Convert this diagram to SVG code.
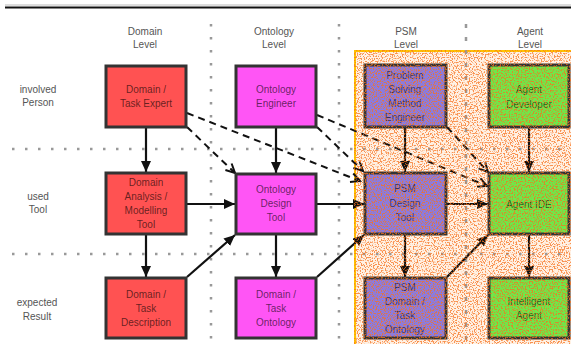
<svg xmlns="http://www.w3.org/2000/svg" width="571" height="344" viewBox="0 0 571 344">
  <defs>
    <style>
      text { font-family: "Liberation Sans", Arial, sans-serif; font-size: 10px; text-anchor: middle; }
      .hdr { fill: #555; }
      .lbl { fill: #000; fill-opacity: 0.62; }
      .box { stroke: #333; stroke-width: 3; }
      .red { fill: #ff5252; }
      .mag { fill: #ff55f5; }
      .psm { fill: #8a7be0; }
      .agt { fill: #6ee84a; }
      .grid { stroke: #999; stroke-width: 2.5; fill: none; stroke-dasharray: 2.5 10.5; }
      .solid { stroke: #111; stroke-width: 2.2; fill: none; marker-end: url(#head); }
      .dash { stroke: #111; stroke-width: 2; fill: none; stroke-dasharray: 7 5; marker-end: url(#open); }
    </style>
    <marker id="head" markerUnits="userSpaceOnUse" markerWidth="11" markerHeight="10" refX="11" refY="5" orient="auto">
      <path d="M0,0 L11,5 L0,10 z" fill="#111"/>
    </marker>
    <marker id="open" markerUnits="userSpaceOnUse" markerWidth="12" markerHeight="12" refX="10" refY="6" orient="auto">
      <path d="M1,1.5 L10,6 L1,10.5" fill="none" stroke="#111" stroke-width="2"/>
    </marker>
    <!-- speckled orange grain for the PSM / agent area -->
    <filter id="grain" x="354" y="50" width="217" height="294" filterUnits="userSpaceOnUse" color-interpolation-filters="sRGB">
      <feTurbulence type="fractalNoise" baseFrequency="0.75" numOctaves="1" seed="7"/>
      <feColorMatrix type="matrix" values="0 0 0 0 0.97  0 0 0 0 0.45  0 0 0 0 0.12  9 0 0 0 -4.5"/>
    </filter>
  </defs>

  <rect width="571" height="344" fill="#fff"/>

  <!-- header rule -->
  <line x1="5" y1="5" x2="571" y2="5" stroke="#bbb" stroke-width="1"/>
  <line x1="5" y1="7.5" x2="571" y2="7.5" stroke="#111" stroke-width="2"/>

  <!-- highlighted area -->
  <rect x="355" y="51" width="220" height="300" fill="#fff1e4" stroke="#ffc400" stroke-width="2"/>

  <!-- grid lines -->
  <g id="grid">
    <line class="grid" x1="211" y1="24" x2="211" y2="344"/>
    <line class="grid" x1="339" y1="24" x2="339" y2="344"/>
    <line class="grid" x1="466" y1="24" x2="466" y2="344" style="stroke-dasharray:4 9"/>
    <line class="grid" x1="12" y1="149" x2="571" y2="149"/>
    <line class="grid" x1="12" y1="254" x2="571" y2="254"/>
  </g>

  <!-- column and row headings -->
  <g id="headings">
    <text class="hdr" x="145" y="35">Domain</text>
    <text class="hdr" x="145" y="48">Level</text>
    <text class="hdr" x="274" y="35">Ontology</text>
    <text class="hdr" x="274" y="48">Level</text>
    <text class="hdr" x="406" y="35">PSM</text>
    <text class="hdr" x="406" y="48">Level</text>
    <text class="hdr" x="530" y="35">Agent</text>
    <text class="hdr" x="530" y="48">Level</text>
    <text class="hdr" x="38" y="93">involved</text>
    <text class="hdr" x="38" y="106">Person</text>
    <text class="hdr" x="38" y="200">used</text>
    <text class="hdr" x="38" y="213">Tool</text>
    <text class="hdr" x="37" y="306">expected</text>
    <text class="hdr" x="37" y="320">Result</text>
  </g>

  <!-- connectors -->
  <g id="connectors">
    <line class="solid" x1="146" y1="128" x2="146" y2="172"/>
    <line class="solid" x1="146" y1="235" x2="146" y2="277"/>
    <line class="solid" x1="187" y1="204" x2="235" y2="204"/>
    <line class="solid" x1="187" y1="277" x2="235" y2="235"/>
    <line class="solid" x1="276" y1="128" x2="276" y2="173"/>
    <line class="solid" x1="276" y1="235" x2="276" y2="277"/>
    <line class="solid" x1="317" y1="204" x2="364" y2="204"/>
    <line class="solid" x1="317" y1="277" x2="364" y2="235"/>
    <line class="solid" x1="405" y1="128" x2="405" y2="172"/>
    <line class="solid" x1="405" y1="235" x2="405" y2="277"/>
    <line class="solid" x1="447" y1="204" x2="488" y2="204"/>
    <line class="solid" x1="447" y1="277" x2="488" y2="235"/>
    <line class="solid" x1="529" y1="128" x2="529" y2="172"/>
    <line class="solid" x1="529" y1="235" x2="529" y2="277"/>
    <line class="dash" x1="187" y1="113" x2="360" y2="181"/>
    <line class="dash" x1="187" y1="127" x2="235" y2="173"/>
    <line class="dash" x1="317" y1="115" x2="487" y2="186"/>
    <line class="dash" x1="317" y1="127" x2="363" y2="171"/>
    <line class="dash" x1="447" y1="127" x2="488" y2="172"/>
  </g>

  <!-- domain level -->
  <g id="domain-expert">
    <rect class="box red" x="106" y="66" width="80" height="61"/>
    <text class="lbl" x="146" y="93">Domain /</text>
    <text class="lbl" x="146" y="107">Task Expert</text>
  </g>
  <g id="domain-tool">
    <rect class="box red" x="106" y="173" width="80" height="61"/>
    <text class="lbl" x="146" y="186">Domain</text>
    <text class="lbl" x="146" y="200">Analysis /</text>
    <text class="lbl" x="146" y="214">Modelling</text>
    <text class="lbl" x="146" y="228">Tool</text>
  </g>
  <g id="domain-description">
    <rect class="box red" x="106" y="278" width="80" height="60"/>
    <text class="lbl" x="146" y="298">Domain /</text>
    <text class="lbl" x="146" y="312">Task</text>
    <text class="lbl" x="146" y="326">Description</text>
  </g>

  <!-- ontology level -->
  <g id="ontology-engineer">
    <rect class="box mag" x="236" y="66" width="80" height="61"/>
    <text class="lbl" x="276" y="93">Ontology</text>
    <text class="lbl" x="276" y="107">Engineer</text>
  </g>
  <g id="ontology-tool">
    <rect class="box mag" x="236" y="174" width="80" height="60"/>
    <text class="lbl" x="276" y="193">Ontology</text>
    <text class="lbl" x="276" y="207">Design</text>
    <text class="lbl" x="276" y="221">Tool</text>
  </g>
  <g id="domain-ontology">
    <rect class="box mag" x="236" y="278" width="80" height="60"/>
    <text class="lbl" x="276" y="298">Domain /</text>
    <text class="lbl" x="276" y="312">Task</text>
    <text class="lbl" x="276" y="326">Ontology</text>
  </g>

  <!-- PSM level -->
  <g id="psm-engineer">
    <rect class="box psm" x="365" y="65" width="81" height="62"/>
    <text class="lbl" x="405" y="79">Problem</text>
    <text class="lbl" x="405" y="93">Solving</text>
    <text class="lbl" x="405" y="107">Method</text>
    <text class="lbl" x="405" y="121">Engineer</text>
  </g>
  <g id="psm-tool">
    <rect class="box psm" x="365" y="173" width="81" height="61"/>
    <text class="lbl" x="405" y="192">PSM</text>
    <text class="lbl" x="405" y="207">Design</text>
    <text class="lbl" x="405" y="221">Tool</text>
  </g>
  <g id="psm-ontology">
    <rect class="box psm" x="365" y="278" width="81" height="60"/>
    <text class="lbl" x="405" y="291">PSM</text>
    <text class="lbl" x="405" y="305">Domain /</text>
    <text class="lbl" x="405" y="319">Task</text>
    <text class="lbl" x="405" y="333">Ontology</text>
  </g>

  <!-- agent level -->
  <g id="agent-developer">
    <rect class="box agt" x="489" y="65" width="80" height="62"/>
    <text class="lbl" x="529" y="93">Agent</text>
    <text class="lbl" x="529" y="108">Developer</text>
  </g>
  <g id="agent-ide">
    <rect class="box agt" x="489" y="173" width="80" height="61"/>
    <text class="lbl" x="529" y="208">Agent IDE</text>
  </g>
  <g id="intelligent-agent">
    <rect class="box agt" x="489" y="278" width="80" height="60"/>
    <text class="lbl" x="529" y="305">Intelligent</text>
    <text class="lbl" x="529" y="319">Agent</text>
  </g>

  <!-- grain over the highlighted area -->
  <rect x="356" y="52" width="215" height="292" filter="url(#grain)" opacity="0.75"/>
</svg>
